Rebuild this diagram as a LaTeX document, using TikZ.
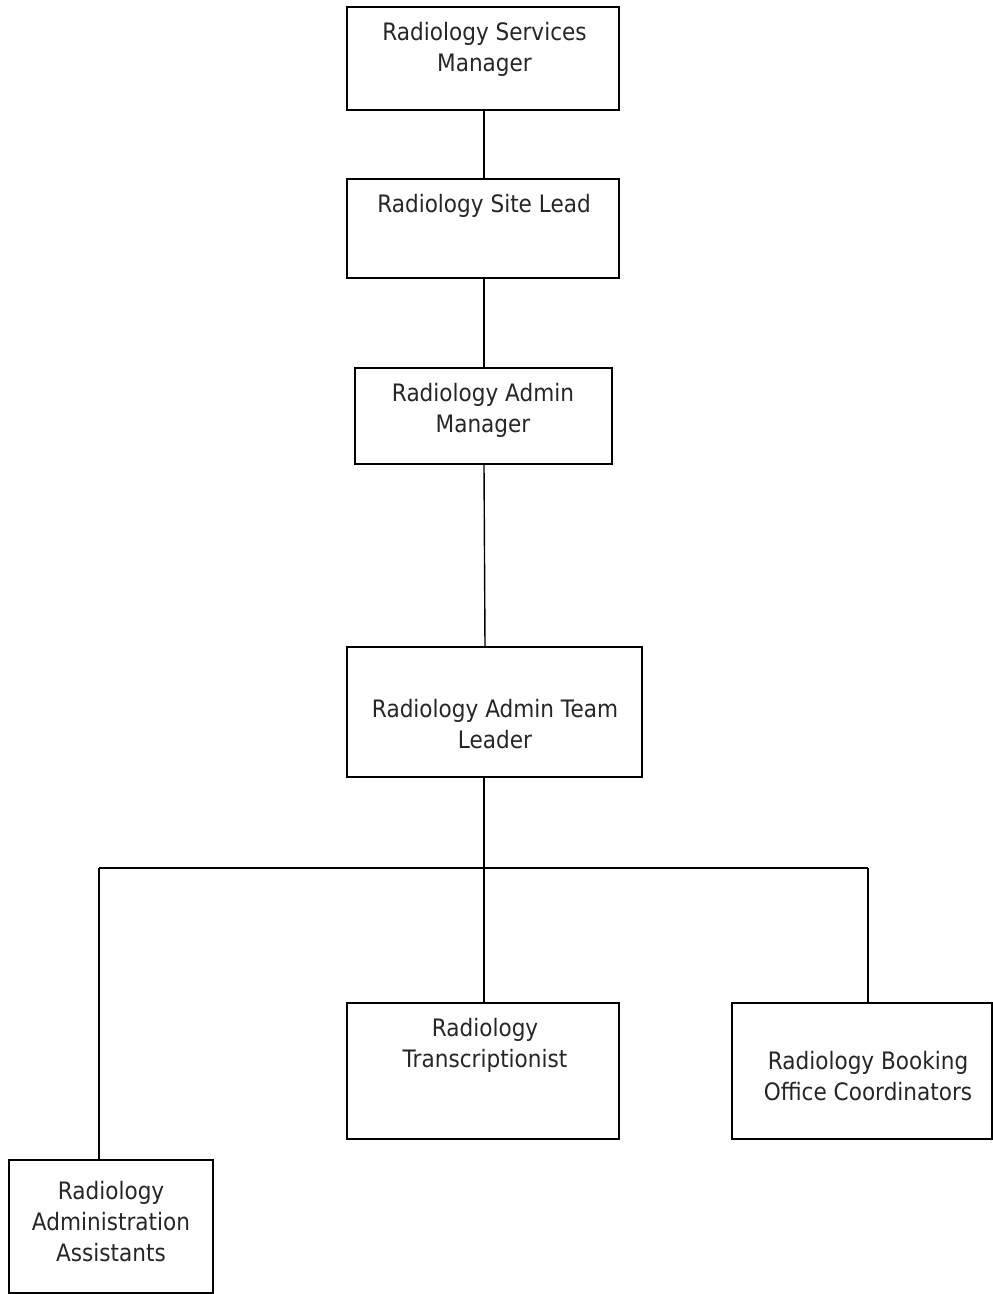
\documentclass[tikz,border=0pt]{standalone}
\usepackage{fontspec}
\newfontfamily\tfont[FakeStretch=0.9]{DejaVu Sans}
\begin{document}
\begin{tikzpicture}[x=1pt,y=-1pt,
  box/.style={draw=black,line width=1.6pt,fill=white,rectangle,inner sep=0pt},
  lbl/.style={font=\tfont\fontsize{24}{31}\selectfont,align=center,inner sep=0pt,text=black!85},
  conn/.style={draw=black,line width=1.4pt}]
\useasboundingbox (0,0) rectangle (993,1294);
\coordinate (bl) at (99,868);
\coordinate (bm) at (484,868);
\coordinate (br) at (868,868);
\node[box,minimum width=272pt,minimum height=103pt] (sm) at (483,58.5) {};
\node[box,minimum width=272pt,minimum height=99pt] (sl) at (483,228.5) {};
\node[box,minimum width=257pt,minimum height=96pt] (am) at (483.5,416) {};
\node[box,minimum width=295pt,minimum height=130pt] (tl) at (494.5,712) {};
\node[box,minimum width=272pt,minimum height=136pt] (tr) at (483,1071) {};
\node[box,minimum width=260pt,minimum height=136pt] (bo) at (862,1071) {};
\node[box,minimum width=204pt,minimum height=133pt] (aa) at (111,1226.5) {};
\draw[conn] (sm.south -| 484,0) -- (sl.north -| 484,0);
\draw[conn] (sl.south -| 484,0) -- (am.north -| 484,0);
\draw[conn] (am.south -| 484,0) -- (tl.north -| 485,0);
\draw[conn] (tl.south -| 484,0) -- (bm);
\draw[conn] (bl) -- (br);
\draw[conn] (bl) -- (aa.north -| bl);
\draw[conn] (bm) -- (tr.north -| bm);
\draw[conn] (br) -- (bo.north -| br);
\node[lbl] (tsm) at (484.5,49.5) {Radiology Services\\Manager};
\node[lbl] (tsl) at (484,206) {Radiology Site Lead};
\node[lbl] (tam) at (483,410.5) {Radiology Admin\\Manager};
\node[lbl] (ttl) at (495,724) {Radiology Admin Team\\Leader};
\node[lbl] (ttr) at (485,1045.5) {Radiology\\Transcriptionist};
\node[lbl] (tbo) at (868,1076) {Radiology Booking\\Office Coordinators};
\node[lbl] (taa) at (111,1221.5) {Radiology\\Administration\\Assistants};
\end{tikzpicture}
\end{document}
